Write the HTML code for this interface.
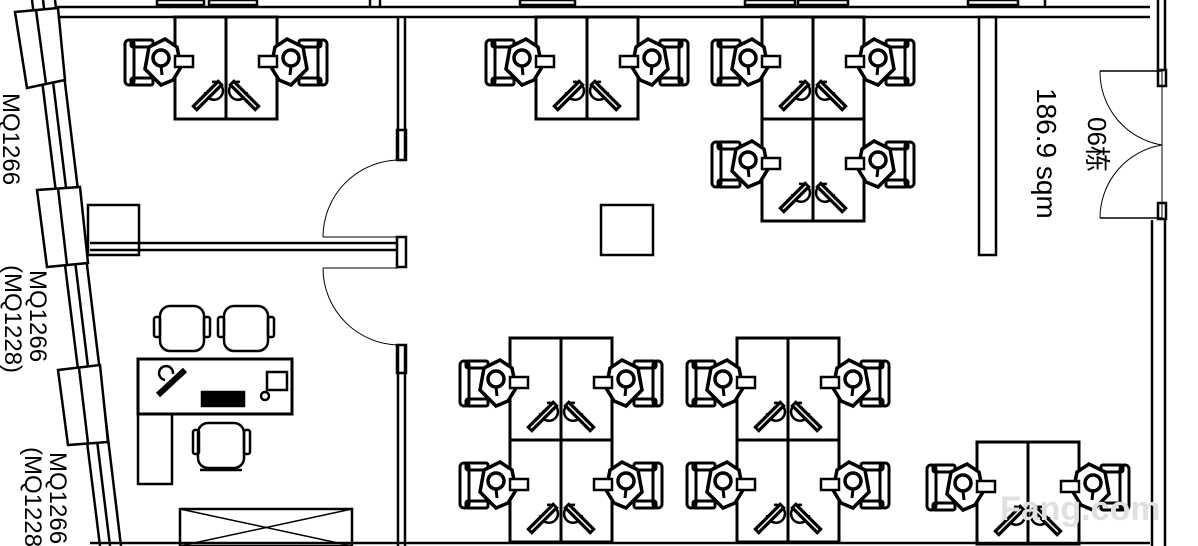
<!DOCTYPE html>
<html><head><meta charset="utf-8"><style>
html,body{margin:0;padding:0;background:#fff;}
svg{display:block}
text{font-family:"Liberation Sans","Noto Sans CJK SC",sans-serif;fill:#000}
</style></head><body>
<svg width="1198" height="546" viewBox="0 0 1198 546" xmlns="http://www.w3.org/2000/svg">
<defs>
<g id="ws" fill="none" stroke="#000">
  <rect x="0" y="0" width="51" height="102" stroke-width="3"/>
  <rect x="-50" y="23" width="9" height="45" rx="4" stroke-width="3"/>
  <rect x="-44" y="23" width="22" height="7" rx="2" stroke-width="3"/>
  <rect x="-44" y="61" width="22" height="7" rx="2" stroke-width="3"/>
  <path d="M-26,30 L-10,22 L2,30 L6,50 L-2,63 L-14,68 L-30,52 Z" stroke-width="3.5" fill="#fff"/>
  <circle cx="-14" cy="41" r="8" stroke-width="3.5"/>
  <path d="M-14,49 L-13,58" stroke-width="3"/>
  <rect x="0" y="39" width="18" height="11" stroke-width="2.5" fill="#fff"/>
  <path d="M30,75 a9,9 0 1 0 7,-10" stroke-width="2.5"/>
  <path d="M19,92 L46,65" stroke-width="8" stroke="#000"/>
  <path d="M21,90 L44,67" stroke-width="1.5" stroke="#fff"/>
</g>
<g id="pair">
  <use href="#ws"/>
  <use href="#ws" transform="translate(102,0) scale(-1,1)"/>
</g>
</defs>
<g fill="none" stroke="#000" stroke-width="2.5">
  <line x1="55" y1="7" x2="1150" y2="7"/>
  <line x1="58" y1="17" x2="1150" y2="17"/>
  <line x1="370" y1="0" x2="370" y2="7"/><line x1="380" y1="0" x2="380" y2="7"/>
  <rect x="157" y="0" width="47" height="5"/><rect x="209" y="0" width="48" height="5"/>
  <rect x="520" y="0" width="55" height="5"/><rect x="745" y="0" width="50" height="5"/><rect x="798" y="0" width="50" height="5"/>
  <rect x="968" y="0" width="50" height="5"/>
  <line x1="1045" y1="0" x2="1045" y2="7"/>
  <!-- slanted left wall -->
  <line x1="32" y1="0" x2="100" y2="546"/>
  <line x1="43" y1="0" x2="110" y2="546"/>
  <line x1="55" y1="0" x2="121" y2="546"/>
  <polygon points="15,12 58,8 65,80 27,88" fill="#fff"/>
  <line x1="36" y1="10" x2="46" y2="84"/>
  <polygon points="37,190 80,187 88,263 47,267" fill="#fff"/>
  <line x1="58" y1="188" x2="67" y2="265"/>
  <polygon points="58,370 100,365 108,442 68,445" fill="#fff"/>
  <line x1="79" y1="368" x2="88" y2="443"/>
  <!-- partition -->
  <line x1="398" y1="17" x2="398" y2="160"/><line x1="405" y1="17" x2="405" y2="160"/>
  <rect x="397" y="130" width="9" height="30"/>
  <rect x="397" y="237" width="9" height="30"/>
  <line x1="398" y1="345" x2="398" y2="546"/><line x1="405" y1="345" x2="405" y2="546"/>
  <rect x="397" y="345" width="9" height="28"/>
  <line x1="90" y1="243" x2="398" y2="243"/><line x1="90" y1="250" x2="398" y2="250"/>
  <rect x="88" y="205" width="51" height="50"/>
  <line x1="90" y1="543" x2="1150" y2="543"/>
  <rect x="979" y="17" width="17" height="238"/>
  <rect x="601" y="205" width="52" height="50"/>
  <!-- right wall -->
  <line x1="1158" y1="0" x2="1158" y2="70"/><line x1="1165" y1="0" x2="1165" y2="70"/>
  <line x1="1152" y1="220" x2="1152" y2="546"/><line x1="1165" y1="220" x2="1165" y2="546"/>
  <rect x="1158" y="70" width="8" height="16"/><rect x="1158" y="203" width="8" height="16"/>
  <line x1="1100" y1="71" x2="1162" y2="71" stroke-width="1.5"/>
  <line x1="1100" y1="218" x2="1162" y2="218" stroke-width="1.5"/>
  <line x1="1162" y1="71" x2="1162" y2="218" stroke-width="1"/>
  <path d="M1100,71 A74,74 0 0 0 1162,145 A74,74 0 0 0 1100,218" stroke-width="1"/>
  <!-- office doors -->
  <path d="M323,237 A77,77 0 0 1 400,160" stroke-width="1"/>
  <line x1="323" y1="237" x2="398" y2="237" stroke-width="1"/>
  <path d="M323,268 A77,77 0 0 0 400,345" stroke-width="1"/>
  <line x1="323" y1="268" x2="398" y2="268" stroke-width="1"/>
  <!-- office furniture -->
  <rect x="138" y="359" width="154" height="55" stroke-width="3"/>
  <rect x="138" y="414" width="34" height="70"/>
  <rect x="202" y="392" width="42" height="14" fill="#000"/>
  <path d="M158,395 L185,370" stroke-width="6"/>
  <path d="M165,380 a7,7 0 1 1 8,-6"/>
  <rect x="267" y="372" width="20" height="18"/>
  <circle cx="265" cy="396" r="4"/>
  <rect x="160" y="306" width="44" height="45" rx="10"/>
  <rect x="154" y="317" width="6" height="20" rx="2"/><rect x="204" y="317" width="6" height="20" rx="2"/>
  <rect x="224" y="306" width="44" height="45" rx="10"/>
  <rect x="218" y="317" width="6" height="20" rx="2"/><rect x="268" y="317" width="6" height="20" rx="2"/>
  <rect x="198" y="423" width="46" height="45" rx="10"/>
  <rect x="193" y="430" width="6" height="24" rx="2"/><rect x="244" y="430" width="6" height="24" rx="2"/>
  <line x1="200" y1="470" x2="242" y2="470"/>
  <rect x="180" y="509" width="172" height="37"/>
  <line x1="180" y1="509" x2="352" y2="546" stroke-width="1.5"/>
  <line x1="180" y1="546" x2="352" y2="509" stroke-width="1.5"/>
</g>
<use href="#pair" transform="translate(175,17)"/>
<use href="#pair" transform="translate(536,17)"/>
<use href="#pair" transform="translate(762,17)"/>
<use href="#pair" transform="translate(762,119)"/>
<use href="#pair" transform="translate(510,338)"/>
<use href="#pair" transform="translate(510,440)"/>
<use href="#pair" transform="translate(737,338)"/>
<use href="#pair" transform="translate(737,440)"/>
<use href="#pair" transform="translate(977,442)"/>
<text transform="translate(3,93) rotate(90)" font-size="24">MQ1266</text>
<text transform="translate(30,270) rotate(90)" font-size="24">MQ1266</text>
<text transform="translate(5,265) rotate(90)" font-size="24">(MQ1228)</text>
<text transform="translate(50,452) rotate(90)" font-size="24">MQ1266</text>
<text transform="translate(25,447) rotate(90)" font-size="24">(MQ1228)</text>
<text transform="translate(1037,88) rotate(90)" font-size="28">186.9 sqm</text>
<text transform="translate(1088,117) rotate(90)" font-size="26">06栋</text>
<text x="1000" y="520" font-size="34" font-weight="bold" style="fill:#e0e0e0">Fang.com</text>
</svg>
</body></html>
